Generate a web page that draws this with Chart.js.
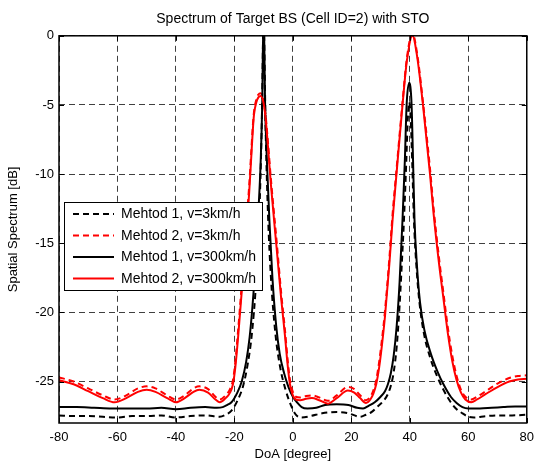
<!DOCTYPE html>
<html><head><meta charset="utf-8">
<script src="https://cdn.jsdelivr.net/npm/chart.js@4.4.1/dist/chart.umd.min.js"></script>
<style>html,body{margin:0;padding:0;background:#fff;}</style>
</head><body>
<canvas id="c" width="541" height="465"></canvas>
<script>
const xTicks = [-80, -60, -40, -20, 0, 20, 40, 60, 80];
const yTicks = [0, -5, -10, -15, -20, -25];
const seriesNames = ['Mehtod 1, v=3km/h', 'Mehtod 2, v=3km/h', 'Mehtod 1, v=300km/h', 'Mehtod 2, v=300km/h'];

// Method 2 (red) angles, shared by both red curves
const redX = [-80,-75,-70,-65,-61,-57,-53,-50,-47,-43,-40,-37,-34,-32,-29,-26.5,-25,-23,-21.5,-20.5,-19.7,-18.7,-17.5,-16.3,-15,-14.3,-13.7,-13.3,-12.5,-11.8,-11.1,-10.2,-9.4,-8.6,-7.5,-5.5,-4,-2.7,-1.8,-1,0,1,2.5,4.5,6.5,9,12,15,18.8,21,23,25,26.5,27.5,28.5,29.5,30.5,31.5,33,34.1,35.6,37.5,39,40.9,42.5,44.5,46.9,48.1,50,51.5,53,54.5,56,57.5,59,61,63,66,70,74,77,80];
const red300 = [-24.9,-25.2,-25.7,-26.2,-26.5,-26.2,-25.75,-25.6,-25.75,-26.2,-26.5,-26.2,-25.75,-25.6,-25.8,-26.3,-26.5,-26.2,-25.8,-25.2,-24,-21.7,-18.5,-15,-11.5,-9,-6.8,-5.7,-4.8,-4.45,-4.35,-4.7,-5.8,-7.8,-10.8,-15.5,-19,-21.7,-23.8,-25.2,-26,-26.3,-26.35,-26.25,-26.2,-26.35,-26.6,-26.2,-25.65,-25.8,-26.2,-26.55,-26.3,-25.9,-25.2,-24,-22.3,-20.3,-16.5,-13.3,-9.6,-5,-1.8,0,-1.5,-5,-10,-12.8,-16.5,-19,-21.5,-23.5,-24.9,-25.8,-26.3,-26.5,-26.3,-25.9,-25.4,-25.0,-24.85,-24.8];
const red3 = [-24.7,-25.0,-25.5,-26.0,-26.3,-26.0,-25.5,-25.35,-25.5,-26.0,-26.3,-26.0,-25.5,-25.35,-25.55,-26.1,-26.3,-26.0,-25.55,-24.9,-23.6,-21.2,-18.0,-14.5,-11.0,-8.6,-6.5,-5.5,-4.6,-4.25,-4.15,-4.5,-5.6,-7.5,-10.4,-15.0,-18.6,-21.3,-23.4,-24.9,-25.75,-26.1,-26.15,-26.05,-26.0,-26.15,-26.4,-26.0,-25.4,-25.55,-26.0,-26.35,-26.1,-25.65,-24.9,-23.6,-21.9,-19.9,-16.1,-12.9,-9.3,-4.8,-1.6,0.2,-1.3,-4.8,-9.6,-12.4,-16.1,-18.6,-21.1,-23.1,-24.6,-25.6,-26.1,-26.3,-26.1,-25.7,-25.15,-24.75,-24.6,-24.55];

// Method 1 (black), 300 km/h
const black300X = [-80,-74,-68,-62,-56,-50,-45,-40,-35,-30,-26,-24,-22.5,-21,-19,-17.5,-16,-14.8,-13.8,-13,-12,-11,-10.5,-10,-9.5,-8.9,-8,-7,-5.7,-4.5,-3,-1.5,0,1.4,3,5,8,11,15,19,22,24,26,28,30,31.5,32.5,33.5,34.5,35.5,36.5,37.5,38.3,38.9,39.8,40.6,41.1,41.6,42.4,43.5,45,47.2,49.5,51.5,54,56,58,60,64,68,72,76,80];
const black300 = [-26.85,-26.85,-26.9,-26.95,-26.95,-26.95,-26.9,-27.0,-26.9,-26.85,-26.9,-26.85,-26.7,-26.5,-25.8,-25,-23.6,-21.8,-19.5,-17.2,-13.5,-9,-5,2,-5,-9,-13.5,-17.5,-21.0,-23.0,-24.4,-25.4,-26.1,-26.5,-26.85,-26.95,-26.9,-26.7,-26.65,-26.7,-26.9,-26.95,-26.75,-26.5,-26.1,-25.7,-25.2,-24.4,-23.1,-21.0,-17.8,-13.3,-9,-5,-3.4,-5,-9,-13.3,-16.5,-19.3,-21.3,-23.0,-24.3,-25.2,-26.1,-26.55,-26.85,-26.95,-26.95,-26.9,-26.85,-26.8,-26.8];

// Method 1 (black), 3 km/h
const black3X = [-80,-75,-70,-65,-60,-55,-50,-45,-40,-35,-30,-25,-23,-21,-19,-17,-15.5,-14,-12.5,-11.5,-10.7,-10,-9.3,-8.5,-7.5,-6,-4.5,-2.5,-0.5,1,3,6,10,15,19,23,25,27,29,31,32.5,33.5,34.5,35.5,36.5,37.3,38,38.8,39.3,39.8,40.3,40.8,41.4,42.2,43.3,44.8,47,49.5,51.5,54,56,58,60,62,66,70,75,80];
const black3 = [-27.45,-27.5,-27.5,-27.55,-27.6,-27.5,-27.5,-27.45,-27.6,-27.5,-27.45,-27.55,-27.4,-27.1,-26.4,-25.3,-23.8,-21.5,-17.5,-13,-7,1,-7,-13,-17.5,-21.5,-23.8,-25.6,-26.8,-27.4,-27.6,-27.5,-27.3,-27.2,-27.3,-27.55,-27.4,-27.2,-26.8,-26.4,-25.9,-25.3,-24.3,-22.5,-19.5,-16.3,-13.3,-9,-6,-4.8,-6,-9,-13.3,-16.5,-19.3,-21.5,-23.3,-24.7,-25.6,-26.5,-27.0,-27.3,-27.55,-27.6,-27.5,-27.45,-27.45,-27.4];

const pts = (xs, ys) => xs.map((x, i) => ({x: x, y: ys[i]}));
const FONT = "'Liberation Sans', Arial, sans-serif";

const frame = {
  id: 'frame',
  afterDatasetsDraw(chart) {
    const {ctx, chartArea: a, scales: {x, y}} = chart;
    ctx.save();
    ctx.strokeStyle = '#000';
    ctx.lineWidth = 1;
    ctx.setLineDash([]);
    ctx.beginPath();
    for (const v of xTicks) {
      const px = Math.round(x.getPixelForValue(v)) + 0.5;
      ctx.moveTo(px, a.top); ctx.lineTo(px, a.top + 5);
      ctx.moveTo(px, a.bottom); ctx.lineTo(px, a.bottom - 5);
    }
    for (const v of yTicks) {
      const py = Math.round(y.getPixelForValue(v)) + 0.5;
      ctx.moveTo(a.left, py); ctx.lineTo(a.left + 5, py);
      ctx.moveTo(a.right, py); ctx.lineTo(a.right - 5, py);
    }
    ctx.stroke();
    ctx.lineWidth = 1.5;
    ctx.strokeRect(a.left, a.top, a.right - a.left, a.bottom - a.top);

    // legend box
    const bx = 64.5, by = 202.5, bw = 198, bh = 88;
    ctx.fillStyle = '#fff';
    ctx.fillRect(bx, by, bw, bh);
    ctx.lineWidth = 1;
    ctx.strokeRect(bx, by, bw, bh);
    const rows = [214, 235.5, 257, 278.5];
    ctx.font = '14px ' + FONT;
    ctx.textBaseline = 'middle';
    ctx.textAlign = 'left';
    chart.data.datasets.forEach((ds, i) => {
      ctx.beginPath();
      ctx.strokeStyle = ds.borderColor;
      ctx.lineWidth = 2;
      ctx.setLineDash(ds.borderDash || []);
      ctx.moveTo(73, rows[i]); ctx.lineTo(114, rows[i]);
      ctx.stroke();
      ctx.setLineDash([]);
      ctx.fillStyle = '#000';
      ctx.fillText(ds.label, 121, rows[i] + 0.5);
    });
    ctx.restore();
  }
};

const common = {pointRadius: 0, borderWidth: 2, fill: false, cubicInterpolationMode: 'monotone'};

new Chart(document.getElementById('c'), {
  type: 'line',
  data: {
    datasets: [
      Object.assign({label: seriesNames[0], data: pts(black3X, black3), borderColor: '#000000', borderDash: [6, 4], order: 4}, common),
      Object.assign({label: seriesNames[1], data: pts(redX, red3), borderColor: '#ff0000', borderDash: [6, 4], order: 3}, common),
      Object.assign({label: seriesNames[2], data: pts(black300X, black300), borderColor: '#000000', order: 2}, common),
      Object.assign({label: seriesNames[3], data: pts(redX, red300), borderColor: '#ff0000', order: 1}, common)
    ]
  },
  options: {
    responsive: false,
    animation: false,
    devicePixelRatio: 1,
    layout: {padding: {left: 0, right: 11, top: 0, bottom: 0}},
    plugins: {
      legend: {display: false},
      tooltip: {enabled: false},
      title: {
        display: true,
        text: 'Spectrum of Target BS (Cell ID=2) with STO',
        color: '#000',
        fullSize: false,
        font: {family: FONT, size: 14, weight: 'normal'},
        padding: {top: 11, bottom: 8}
      }
    },
    scales: {
      x: {
        type: 'linear', min: -80, max: 80,
        afterBuildTicks: s => { s.ticks = xTicks.map(v => ({value: v})); },
        afterFit: s => { s.height = 42; },
        grid: {color: 'rgba(0,0,0,0.75)', lineWidth: 1, drawTicks: false},
        border: {display: false, dash: [6, 4]},
        ticks: {color: '#000', padding: 7, font: {family: FONT, size: 13}, maxRotation: 0},
        title: {display: true, text: 'DoA [degree]', color: '#000', font: {family: FONT, size: 13}, padding: {top: 0, bottom: 3}}
      },
      y: {
        type: 'linear', min: -28, max: 0,
        afterBuildTicks: s => { s.ticks = yTicks.map(v => ({value: v})); },
        afterFit: s => { s.width = 59; },
        grid: {color: 'rgba(0,0,0,0.75)', lineWidth: 1, drawTicks: false},
        border: {display: false, dash: [6, 4]},
        ticks: {color: '#000', padding: 5, font: {family: FONT, size: 13}},
        title: {display: true, text: 'Spatial Spectrum [dB]', color: '#000', font: {family: FONT, size: 13}, padding: {top: 6, bottom: 0}}
      }
    }
  },
  plugins: [frame]
});
</script>
</body></html>
